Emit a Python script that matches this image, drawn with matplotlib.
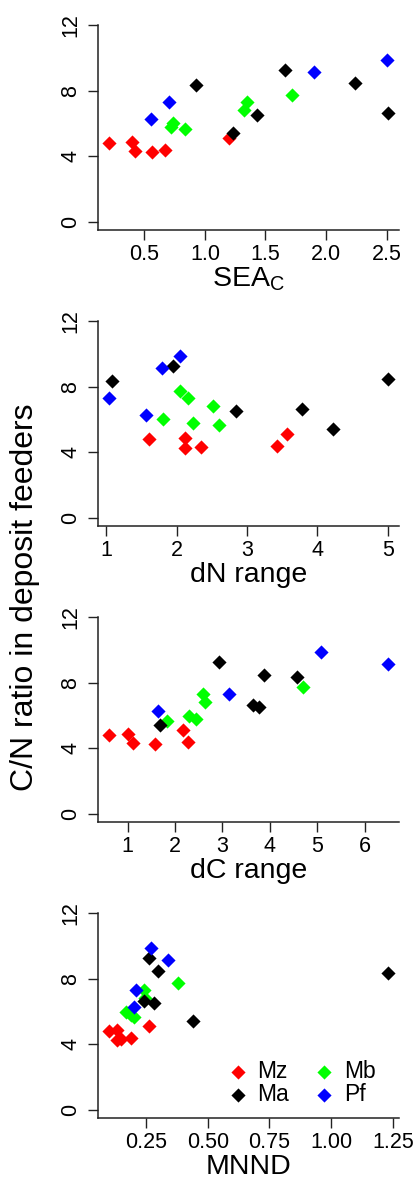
import matplotlib
matplotlib.use("Agg")
import matplotlib.pyplot as plt
from matplotlib.ticker import FormatStrFormatter

plt.rcParams['font.family'] = ['Liberation Sans', 'DejaVu Sans']

# C/N ratio of each sample, per group
cn_mz = [4.8, 4.9, 4.35, 4.25, 4.4, 5.12]
cn_mb = [5.78, 6.0, 5.65, 6.82, 7.32, 7.75]
cn_ma = [8.35, 5.4, 6.5, 9.25, 8.44, 6.62]
cn_pf = [6.25, 7.3, 9.15, 9.88]

sea_mz = [0.21, 0.40, 0.42, 0.56, 0.67, 1.20]
sea_mb = [0.72, 0.74, 0.84, 1.32, 1.35, 1.715]
sea_ma = [0.927, 1.23, 1.43, 1.66, 2.236, 2.51]
sea_pf = [0.555, 0.70, 1.90, 2.50]

dn_mz = [1.61, 2.12, 2.34, 2.12, 3.43, 3.57]
dn_mb = [2.23, 1.81, 2.60, 2.52, 2.16, 2.045]
dn_ma = [1.08, 4.22, 2.84, 1.95, 5.0, 3.78]
dn_pf = [1.57, 1.04, 1.785, 2.045]

dc_mz = [0.61, 1.01, 1.11, 1.58, 2.27, 2.16]
dc_mb = [2.44, 2.30, 1.82, 2.63, 2.59, 4.71]
dc_ma = [4.57, 1.68, 3.78, 2.93, 3.87, 3.64]
dc_pf = [1.65, 3.13, 6.49, 5.08]

mnnd_mz = [0.10, 0.13, 0.15, 0.13, 0.19, 0.26]
mnnd_mb = [0.19, 0.17, 0.20, 0.245, 0.24, 0.38]
mnnd_ma = [1.23, 0.44, 0.28, 0.26, 0.30, 0.24]
mnnd_pf = [0.20, 0.21, 0.34, 0.27]

groups = ["Mz", "Mb", "Ma", "Pf"]
colors = ["#ff0000", "#00ff00", "#000000", "#0000ff"]
cn_all = [cn_mz, cn_mb, cn_ma, cn_pf]

panels = [
    (r"$\mathregular{SEA_C}$", [sea_mz, sea_mb, sea_ma, sea_pf], [0.5, 1.0, 1.5, 2.0, 2.5], "%.1f"),
    ("dN range", [dn_mz, dn_mb, dn_ma, dn_pf], [1, 2, 3, 4, 5], "%d"),
    ("dC range", [dc_mz, dc_mb, dc_ma, dc_pf], [1, 2, 3, 4, 5, 6], "%d"),
    ("MNND", [mnnd_mz, mnnd_mb, mnnd_ma, mnnd_pf], [0.25, 0.5, 0.75, 1.0, 1.25], "%.2f"),
]
y_ticks = [0, 4, 8, 12]

W, H = 415, 1183
fig = plt.figure(figsize=(W / 100, H / 100), dpi=100)

bottoms_px = [230, 526, 822, 1118]
ax_left, ax_right, ax_h = 98, 399, 213

axes = []
for (xlabel, xs, xticks, fmt), bpx in zip(panels, bottoms_px):
    ax = fig.add_axes([ax_left / W, 1 - bpx / H, (ax_right - ax_left) / W, ax_h / H])
    for x, y, c, g in zip(xs, cn_all, colors, groups):
        ax.scatter(x, y, marker="D", s=52, color=c, linewidths=0, label=g, zorder=3)
    ax.margins(x=0.04)
    ax.set_ylim(-0.48, 12.48)
    ax.set_yticks(y_ticks)
    ax.set_xticks(xticks)
    ax.xaxis.set_major_formatter(FormatStrFormatter(fmt))
    for s in ["top", "right"]:
        ax.spines[s].set_visible(False)
    for s in ["left", "bottom"]:
        ax.spines[s].set_color("#222222")
        ax.spines[s].set_linewidth(1.1)
    ax.spines["left"].set_bounds(-0.48, 12)
    ax.tick_params(axis="both", length=7, width=1.0, color="#222222",
                   labelsize=15.5, pad=5)
    ax.tick_params(axis="x", pad=3)
    for lbl in ax.get_yticklabels():
        lbl.set_rotation(90)
        lbl.set_va("center")
    ax.set_xlabel(xlabel, fontsize=20.5, labelpad=0.5)
    axes.append(ax)

# legend in the last panel: Mz, Ma / Mb, Pf
handles, labels = axes[-1].get_legend_handles_labels()
order = [0, 2, 1, 3]
axes[-1].legend([handles[i] for i in order], [labels[i] for i in order],
                ncol=2, loc="center", bbox_to_anchor=(0.676, 0.164),
                frameon=False, fontsize=16.5, handlelength=0.9,
                handletextpad=0.4, columnspacing=1.1, labelspacing=0.0,
                borderpad=0, scatterpoints=1)

fig.text(25 / W, 1 - 597 / H, "C/N ratio in deposit feeders", rotation=90,
         ha="center", va="center", fontsize=23)

fig.savefig("out.png", dpi=100)
